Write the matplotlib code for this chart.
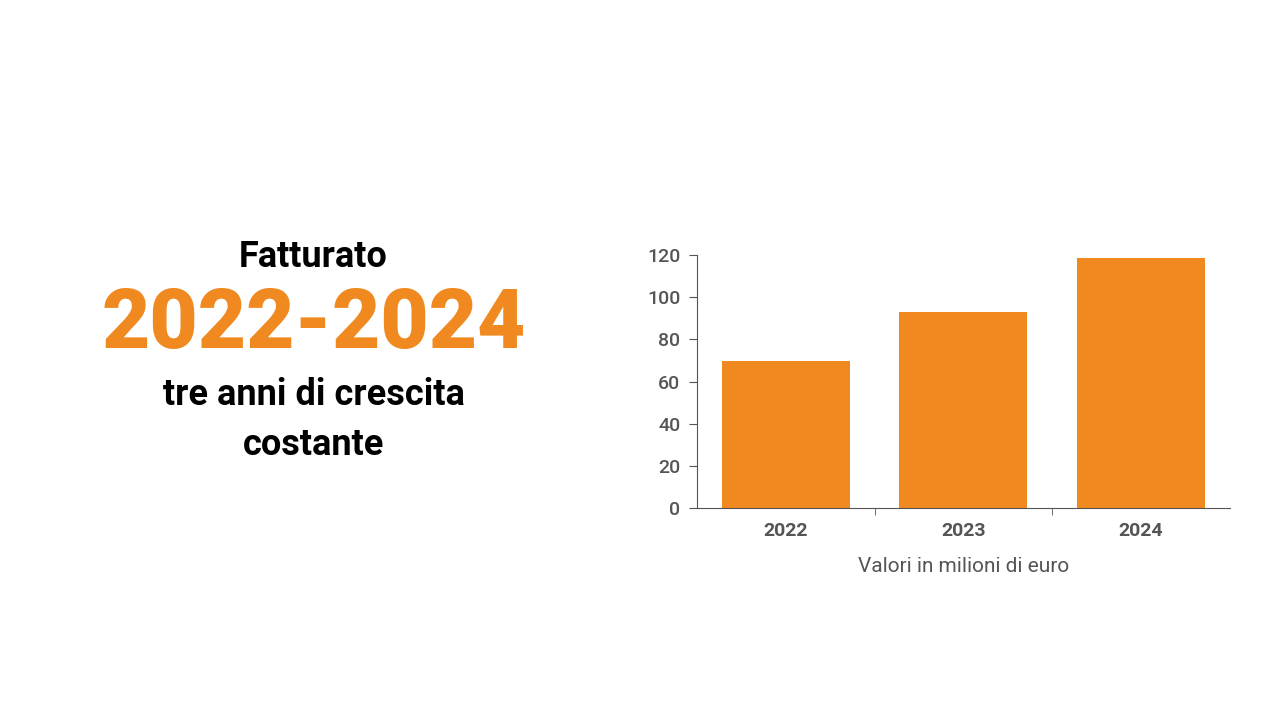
import matplotlib.pyplot as plt
import numpy as np

years = ['2022', '2023', '2024']
fatturato = [69.5, 93, 118.5]
y_ticks = [0, 20, 40, 60, 80, 100, 120]

orange = '#F0891F'
grey = '#555555'

plt.rcParams['font.family'] = ['Roboto', 'DejaVu Sans']

fig = plt.figure(figsize=(12.8, 7.2), dpi=100)

# headline on the left
fig.text(0.245, 0.643, 'Fatturato', ha='center', va='center', fontsize=26, fontweight='bold', color='black')
fig.text(0.245, 0.548, '2022-2024', ha='center', va='center', fontsize=60, fontweight='heavy', color=orange)
fig.text(0.245, 0.452, 'tre anni di crescita', ha='center', va='center', fontsize=26, fontweight='bold', color='black')
fig.text(0.245, 0.382, 'costante', ha='center', va='center', fontsize=26, fontweight='bold', color='black')

# bar chart on the right
ax = fig.add_axes([0.5445, 0.2944, 0.4164, 0.3514])
x = np.arange(len(years))
ax.bar(x, fatturato, width=0.72, color=orange)
ax.set_xlim(-0.5, 2.5)
ax.set_ylim(0, 120)
ax.set_yticks(y_ticks)
ax.set_yticklabels([str(v) for v in y_ticks], fontsize=14, fontweight='medium', color=grey)
ax.set_xticks(x)
ax.set_xticklabels(years, fontsize=14, fontweight='bold', color=grey)
ax.tick_params(axis='x', length=0, pad=10)
ax.tick_params(axis='y', length=6, color=grey, pad=6)
ax.set_xticks([0.5, 1.5], minor=True)
ax.tick_params(axis='x', which='minor', length=5, color=grey)
for s in ['top', 'right']:
    ax.spines[s].set_visible(False)
for s in ['left', 'bottom']:
    ax.spines[s].set_color(grey)
ax.set_xlabel('Valori in milioni di euro', fontsize=15, color=grey, labelpad=12)

fig.savefig('out.png', dpi=100)
